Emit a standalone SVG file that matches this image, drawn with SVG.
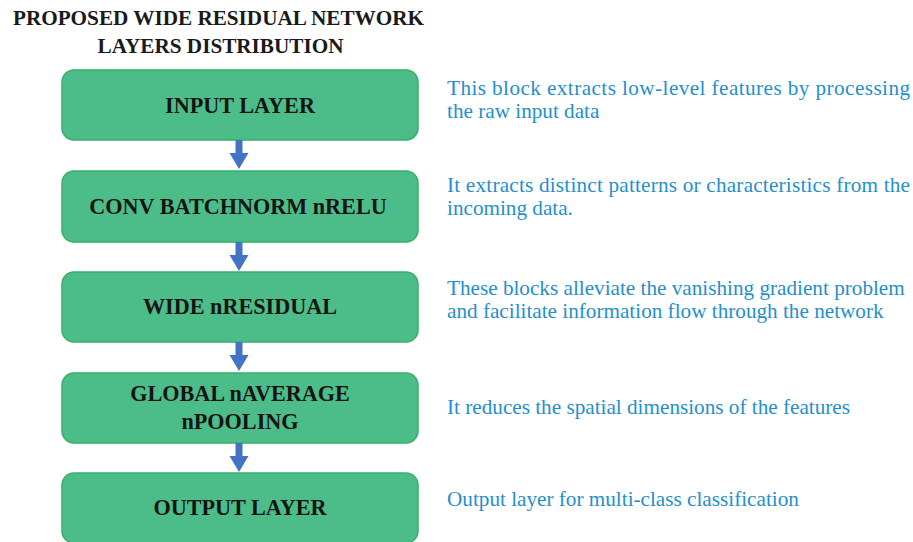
<svg xmlns="http://www.w3.org/2000/svg" width="913" height="542" viewBox="0 0 913 542">
  <style>
    .title { font-family: "Liberation Serif", "Times New Roman", serif; font-weight: bold; font-size: 21.2px; fill: #1a1a1a; text-anchor: middle; }
    .box { fill: #4cbc88; stroke: #34b06c; stroke-width: 1.5; }
    .label { font-family: "Liberation Serif", "Times New Roman", serif; font-weight: bold; font-size: 22.2px; fill: #141414; text-anchor: middle; }
    .desc { font-family: "Liberation Serif", "Times New Roman", serif; font-size: 21.2px; fill: #1f8fcf; }
    .arrow { fill: #4472c4; }
  </style>
  <defs>
    <path id="down" d="M -3.5 0 H 3.5 V 13 H 9.5 L 0 29 L -9.5 13 H -3.5 Z"/>
  </defs>

  <g id="title">
    <text class="title" x="218.5" y="25">PROPOSED WIDE RESIDUAL NETWORK</text>
    <text class="title" x="220.5" y="53">LAYERS DISTRIBUTION</text>
  </g>

  <g id="input-layer">
    <rect class="box" x="62" y="70" width="356" height="70" rx="12"/>
    <text class="label" x="240" y="113">INPUT LAYER</text>
  </g>
  <g id="conv-batchnorm-relu">
    <rect class="box" x="62" y="171" width="356" height="71" rx="12"/>
    <text class="label" x="238" y="214">CONV BATCHNORM nRELU</text>
  </g>
  <g id="wide-residual">
    <rect class="box" x="62" y="272" width="356" height="70" rx="12"/>
    <text class="label" x="240" y="314">WIDE nRESIDUAL</text>
  </g>
  <g id="global-average-pooling">
    <rect class="box" x="62" y="373" width="356" height="70" rx="12"/>
    <text class="label" x="240" y="401">GLOBAL nAVERAGE</text>
    <text class="label" x="240" y="429">nPOOLING</text>
  </g>
  <g id="output-layer">
    <rect class="box" x="62" y="473" width="356" height="70" rx="12"/>
    <text class="label" x="240" y="515">OUTPUT LAYER</text>
  </g>

  <g id="connectors">
    <use href="#down" class="arrow" x="239" y="140"/>
    <use href="#down" class="arrow" x="239" y="242"/>
    <use href="#down" class="arrow" x="239" y="342"/>
    <use href="#down" class="arrow" x="239" y="443"/>
  </g>

  <g id="descriptions">
    <text class="desc" x="447" y="95" textLength="463" lengthAdjust="spacing">This block extracts low-level features by processing</text>
    <text class="desc" x="447" y="118">the raw input data</text>
    <text class="desc" x="447" y="192" textLength="463" lengthAdjust="spacing">It extracts distinct patterns or characteristics from the</text>
    <text class="desc" x="447" y="215">incoming data.</text>
    <text class="desc" x="447" y="295">These blocks alleviate the vanishing gradient problem</text>
    <text class="desc" x="447" y="318">and facilitate information flow through the network</text>
    <text class="desc" x="447" y="414">It reduces the spatial dimensions of the features</text>
    <text class="desc" x="447" y="506">Output layer for multi-class classification</text>
  </g>
</svg>
